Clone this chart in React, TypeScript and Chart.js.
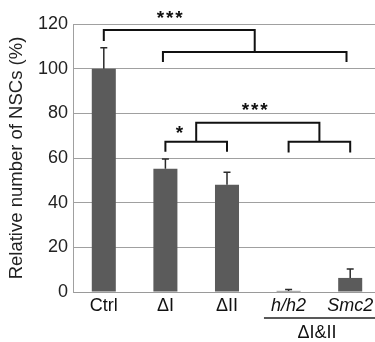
import React, { useEffect, useRef } from "react";
import { Chart, registerables } from "chart.js";

Chart.register(...registerables);

const categories = ["Ctrl", "ΔI", "ΔII", "h/h2", "Smc2"];
const italicCats = [false, false, false, true, true];
const means = [100, 55.2, 48.0, 0.5, 6.3];
const upperErrors = [9.4, 4.3, 5.6, 0.6, 4.0];
const yTicks = [0, 20, 40, 60, 80, 100, 120];
const groupLabel = "ΔI&II";
const groupSpan = [2.6, 4.5];

// significance brackets: polylines of [category index, value]
const bracketLines: number[][][] = [
  [[0, 112.4], [0, 117.3], [2.45, 117.3], [2.45, 107.5]],
  [[0.96, 103], [0.96, 107.5], [3.94, 107.5], [3.94, 103]],
  [[1.5, 67.3], [1.5, 75.8], [3.5, 75.8], [3.5, 67.3]],
  [[1, 62.8], [1, 67.3], [2, 67.3], [2, 62.8]],
  [[3, 62.5], [3, 67.3], [4, 67.3], [4, 62.5]],
];
const starLabels = ["***", "*", "***"];
const starX = [1.07, 1.23, 2.45];
const starY = [124, 72.5, 82.8];

const FONT = "'Liberation Sans', Arial, sans-serif";

export default function App() {
  const ref = useRef<HTMLCanvasElement | null>(null);
  useEffect(() => {
    if (!ref.current) return;
    const overlay = {
      id: "overlay",
      afterDatasetsDraw(chart: any) {
        const { ctx, scales } = chart;
        const x = scales.x;
        const y = scales.y;
        ctx.save();
        // error bars
        ctx.strokeStyle = "#2a2a2a";
        ctx.lineWidth = 1.5;
        means.forEach((m, i) => {
          const px = x.getPixelForValue(i);
          const top = y.getPixelForValue(m + upperErrors[i]);
          const base = y.getPixelForValue(m);
          ctx.beginPath();
          ctx.moveTo(px, base);
          ctx.lineTo(px, top);
          ctx.moveTo(px - 3.5, top);
          ctx.lineTo(px + 3.5, top);
          ctx.stroke();
        });
        // brackets
        ctx.strokeStyle = "#111";
        ctx.lineWidth = 2;
        bracketLines.forEach((line) => {
          ctx.beginPath();
          line.forEach(([xi, v], k) => {
            const px = x.getPixelForValue(xi);
            const py = y.getPixelForValue(v);
            if (k === 0) ctx.moveTo(px, py);
            else ctx.lineTo(px, py);
          });
          ctx.stroke();
        });
        // stars
        ctx.fillStyle = "#111";
        ctx.font = `bold 19px ${FONT}`;
        ctx.textAlign = "center";
        ctx.textBaseline = "middle";
        starLabels.forEach((s, i) => {
          const cx = x.getPixelForValue(starX[i]);
          const cy = y.getPixelForValue(starY[i]);
          const n = s.length;
          for (let k = 0; k < n; k++) {
            ctx.fillText("*", cx + (k - (n - 1) / 2) * 9.3, cy + 4);
          }
        });
        // group label
        const bottom = chart.chartArea.bottom;
        ctx.strokeStyle = "#222";
        ctx.lineWidth = 1.3;
        ctx.beginPath();
        ctx.moveTo(x.getPixelForValue(groupSpan[0]), bottom + 26);
        ctx.lineTo(x.getPixelForValue(groupSpan[1]), bottom + 26);
        ctx.stroke();
        ctx.fillStyle = "#111";
        ctx.font = `18px ${FONT}`;
        ctx.fillText(groupLabel, x.getPixelForValue(3.46), bottom + 41);
        ctx.restore();
      },
    };
    const chart = new Chart(ref.current, {
      type: "bar",
      data: {
        labels: categories,
        datasets: [
          {
            data: means,
            backgroundColor: "#5b5b5b",
            borderWidth: 0,
            barPercentage: 0.39,
            categoryPercentage: 1,
          },
        ],
      },
      options: {
        responsive: false,
        animation: false,
        layout: { padding: { top: 24, right: 19, left: 0, bottom: 0 } },
        plugins: { legend: { display: false }, tooltip: { enabled: false } },
        scales: {
          x: {
            grid: { display: false, drawTicks: false },
            border: { display: true, color: "#9a9a9a" },
            ticks: {
              color: "#111",
              padding: 3,
              maxRotation: 0,
              autoSkip: false,
              font: (c: any) => ({
                family: FONT,
                size: 18,
                style: italicCats[c.index] ? "italic" : "normal",
              }),
            },
            afterFit: (s: any) => {
              s.height = 50;
            },
          },
          y: {
            min: 0,
            max: 120,
            afterBuildTicks: (s: any) => {
              s.ticks = yTicks.map((v) => ({ value: v }));
            },
            grid: { color: "#a0a0a0", lineWidth: 1, drawTicks: false },
            border: { display: true, color: "#a0a0a0" },
            ticks: {
              color: "#222",
              padding: 5,
              font: { family: FONT, size: 18 },
            },
            title: {
              display: true,
              text: "Relative number of NSCs (%)",
              color: "#222",
              font: { family: FONT, size: 18.5 },
              padding: { top: 6, bottom: 0 },
            },
            afterFit: (s: any) => {
              s.width = 73;
            },
          },
        },
      },
      plugins: [overlay],
    });
    return () => chart.destroy();
  }, []);
  return (
    <div
      style={{
        position: "fixed",
        left: 0,
        top: 0,
        width: 375,
        height: 342,
        overflow: "hidden",
        background: "#fff",
      }}
    >
      <canvas ref={ref} width={400} height={342} style={{ display: "block" }} />
    </div>
  );
}
